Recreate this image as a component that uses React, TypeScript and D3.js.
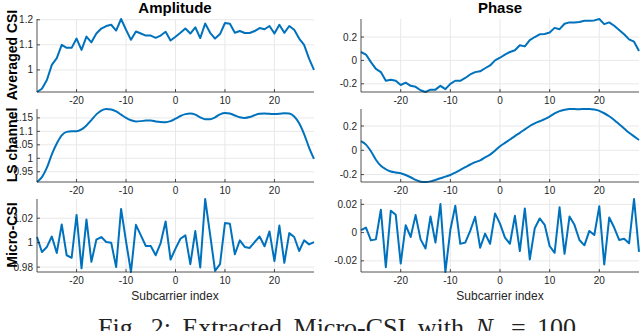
import React from 'react';
import * as d3 from 'd3';

// subcarrier indices
const subcarriers = [
  -28, -27, -26, -25, -24, -23, -22, -21, -20, -19, -18, -17, -16, -15, -14, -13, -12, -11, -10,
  -9, -8, -7, -6, -5, -4, -3, -2, -1, 0, 1, 2, 3, 4, 5, 6, 7, 8, 9, 10, 11, 12, 13, 14, 15, 16, 17,
  18, 19, 20, 21, 22, 23, 24, 25, 26, 27, 28,
];

const avgAmplitude = [
  0.912, 0.925, 0.96, 1.02, 1.047, 1.1, 1.088, 1.088, 1.125, 1.08, 1.133, 1.11, 1.145, 1.165, 1.175,
  1.18, 1.157, 1.203, 1.16, 1.12, 1.153, 1.145, 1.137, 1.137, 1.128, 1.137, 1.152, 1.117, 1.132,
  1.148, 1.165, 1.145, 1.17, 1.127, 1.185, 1.148, 1.125, 1.143, 1.187, 1.184, 1.148, 1.155, 1.147,
  1.147, 1.155, 1.167, 1.162, 1.175, 1.145, 1.18, 1.148, 1.175, 1.16, 1.125, 1.1, 1.045, 1.0,
];

const avgPhase = [
  0.072, 0.05, -0.015, -0.072, -0.1, -0.174, -0.165, -0.174, -0.21, -0.19, -0.217, -0.226, -0.255,
  -0.27, -0.25, -0.25, -0.217, -0.246, -0.2, -0.174, -0.174, -0.15, -0.12, -0.1, -0.093, -0.067,
  -0.043, 0.0, 0.023, 0.05, 0.072, 0.087, 0.13, 0.12, 0.174, 0.2, 0.223, 0.226, 0.238, 0.278, 0.267,
  0.313, 0.325, 0.325, 0.328, 0.339, 0.339, 0.342, 0.354, 0.31, 0.325, 0.296, 0.26, 0.223, 0.18,
  0.16, 0.08,
];

const lsAmplitude = [
  0.912, 0.93, 0.965, 1.015, 1.055, 1.085, 1.098, 1.1, 1.1, 1.107, 1.122, 1.142, 1.163, 1.177, 1.183,
  1.181, 1.174, 1.162, 1.15, 1.141, 1.137, 1.138, 1.14, 1.14, 1.137, 1.135, 1.134, 1.138, 1.147,
  1.157, 1.164, 1.166, 1.162, 1.152, 1.145, 1.145, 1.152, 1.163, 1.168, 1.166, 1.159, 1.152, 1.15,
  1.153, 1.16, 1.165, 1.166, 1.165, 1.164, 1.165, 1.167, 1.166, 1.155, 1.13, 1.09, 1.04, 0.998,
];

const lsPhase = [
  0.075, 0.047, -0.008, -0.078, -0.128, -0.156, -0.175, -0.183, -0.189, -0.203, -0.222, -0.244,
  -0.258, -0.261, -0.256, -0.244, -0.23, -0.217, -0.203, -0.183, -0.161, -0.139, -0.117, -0.097,
  -0.083, -0.058, -0.036, -0.003, 0.033, 0.061, 0.089, 0.117, 0.144, 0.172, 0.2, 0.222, 0.239, 0.256,
  0.278, 0.303, 0.322, 0.333, 0.339, 0.339, 0.338, 0.34, 0.34, 0.335, 0.325, 0.305, 0.28, 0.25,
  0.215, 0.18, 0.145, 0.115, 0.085,
];

const microAmplitude = [
  1.0046, 0.9924, 0.9965, 1.005, 0.9916, 1.0149, 0.9897, 0.9876, 1.0227, 0.979, 1.019, 0.9843,
  1.0024, 1.0046, 1.0005, 1.0, 0.98, 1.0276, 1.001, 0.976, 1.0146, 1.006, 0.9973, 0.9973, 0.9897,
  0.9997, 1.0173, 0.9862, 0.9951, 1.0032, 1.006, 0.9824, 1.0095, 0.9797, 1.0357, 1.0065, 0.977,
  0.9824, 1.016, 1.0154, 0.9905, 1.0019, 0.9965, 0.9957, 1.0005, 1.005, 0.997, 1.0092, 0.9849,
  1.014, 0.9835, 1.0078, 1.0046, 0.9932, 1.0019, 0.9986, 1.0005,
];

const microPhase = [
  0.0017, 0.0036, -0.0055, -0.0048, 0.0162, -0.0245, 0.0155, 0.0126, -0.0219, 0.0052, -0.0031,
  0.0124, -0.0048, -0.0112, 0.0114, -0.0071, 0.0202, -0.0279, 0.002, 0.019, -0.0079, -0.0071,
  0.0012, 0.0112, -0.0107, -0.0007, -0.0079, 0.0136, 0.0064, -0.0036, -0.0079, 0.0119, -0.0131,
  0.0171, -0.019, 0.0031, 0.01, 0.0055, -0.0095, -0.0143, 0.0179, -0.015, 0.0114, 0.0055, -0.0052,
  -0.009, 0.0012, -0.0017, 0.0186, -0.0226, 0.0107, 0.0036, -0.0052, -0.0043, -0.0076, 0.0238,
  -0.0136,
];

const xTicks = [-20, -10, 0, 10, 20];
const ampTicks = [[1, 1.1, 1.2], [0.95, 1, 1.05, 1.1, 1.15], [0.98, 1, 1.02]];
const phaseTicks = [[-0.2, 0, 0.2], [-0.2, 0, 0.2], [-0.02, 0, 0.02]];

const rowLabels = ['Averaged CSI', 'LS channel', 'Micro-CSI'];

const W = 640;
const H = 331;
const cols = [{ left: 37, right: 314 }, { left: 361, right: 639 }];
const rows = [{ top: 19, bottom: 92 }, { top: 109, bottom: 182 }, { top: 199, bottom: 272 }];

const lineColor = '#0072BD';
const axisColor = '#262626';
const gridColor = '#e8e8e8';
const sans = '"Liberation Sans", Arial, Helvetica, sans-serif';

type PanelProps = {
  col: { left: number; right: number };
  row: { top: number; bottom: number };
  values: number[];
  yTicks: number[];
  smooth?: boolean;
};

const Panel = ({ col, row, values, yTicks, smooth }: PanelProps) => {
  const x = d3.scaleLinear().domain([-28, 28]).range([col.left, col.right]);
  const ext = d3.extent(values) as [number, number];
  const y = d3.scaleLinear().domain(ext).range([row.bottom, row.top]);
  const line = d3
    .line<number>()
    .x((_, i) => x(subcarriers[i]))
    .y((d) => y(d))
    .curve(smooth ? d3.curveMonotoneX : d3.curveLinear);

  return (
    <g>
      {xTicks.map((t) => (
        <line key={'gx' + t} x1={x(t)} x2={x(t)} y1={row.top} y2={row.bottom} stroke={gridColor} strokeWidth={1} />
      ))}
      {yTicks.map((t) => (
        <line key={'gy' + t} x1={col.left} x2={col.right} y1={y(t)} y2={y(t)} stroke={gridColor} strokeWidth={1} />
      ))}
      <path d={line(values) || ''} fill="none" stroke={lineColor} strokeWidth={2} strokeLinejoin="round" />
      <line x1={col.left} x2={col.left} y1={row.top} y2={row.bottom} stroke={axisColor} strokeWidth={0.8} />
      <line x1={col.left} x2={col.right} y1={row.bottom} y2={row.bottom} stroke={axisColor} strokeWidth={0.8} />
      {xTicks.map((t) => (
        <g key={'tx' + t}>
          <line x1={x(t)} x2={x(t)} y1={row.bottom} y2={row.bottom - 3} stroke={axisColor} strokeWidth={0.8} />
          <text x={x(t)} y={row.bottom + 12} textAnchor="middle" fontSize={10} fill={axisColor} fontFamily={sans}>
            {t}
          </text>
        </g>
      ))}
      {yTicks.map((t) => (
        <g key={'ty' + t}>
          <line x1={col.left} x2={col.left + 3} y1={y(t)} y2={y(t)} stroke={axisColor} strokeWidth={0.8} />
          <text x={col.left - 4} y={y(t) + 3.5} textAnchor="end" fontSize={10} fill={axisColor} fontFamily={sans}>
            {String(t)}
          </text>
        </g>
      ))}
    </g>
  );
};

const App = () => {
  const ampSeries = [avgAmplitude, lsAmplitude, microAmplitude];
  const phaseSeries = [avgPhase, lsPhase, microPhase];
  const labelCenters = [55, 145, 235];

  return (
    <svg width={W} height={H} style={{ position: 'absolute', left: 0, top: 0, background: '#fff' }}>
      <rect x={0} y={0} width={W} height={H} fill="#fff" />
      <text x={175} y={13} textAnchor="middle" fontSize={15} fontWeight="bold" fontFamily={sans} fill="#000">
        Amplitude
      </text>
      <text x={500} y={13} textAnchor="middle" fontSize={15} fontWeight="bold" fontFamily={sans} fill="#000">
        Phase
      </text>
      {rows.map((r, i) => (
        <g key={'row' + i}>
          <Panel col={cols[0]} row={r} values={ampSeries[i]} yTicks={ampTicks[i]} smooth={i === 1} />
          <Panel col={cols[1]} row={r} values={phaseSeries[i]} yTicks={phaseTicks[i]} smooth={i === 1} />
          <text
            transform={`translate(17,${labelCenters[i]}) rotate(-90)`}
            textAnchor="middle"
            fontSize={14}
            fontWeight="bold"
            fontFamily={sans}
            fill="#000"
          >
            {rowLabels[i]}
          </text>
        </g>
      ))}
      <text x={175} y={300} textAnchor="middle" fontSize={12} fontFamily={sans} fill={axisColor}>
        Subcarrier index
      </text>
      <text x={500} y={300} textAnchor="middle" fontSize={12} fontFamily={sans} fill={axisColor}>
        Subcarrier index
      </text>
      <text x={98} y={336} fontSize={26} fontFamily='"Liberation Serif", "DejaVu Serif", serif' fill="#222" wordSpacing={5}>
        Fig. 2: Extracted Micro-CSI with <tspan fontStyle="italic">N</tspan>
        <tspan fontSize={17} dy={4}>s</tspan>
        <tspan dy={-4}> = 100</tspan>
      </text>
    </svg>
  );
};

export default App;
